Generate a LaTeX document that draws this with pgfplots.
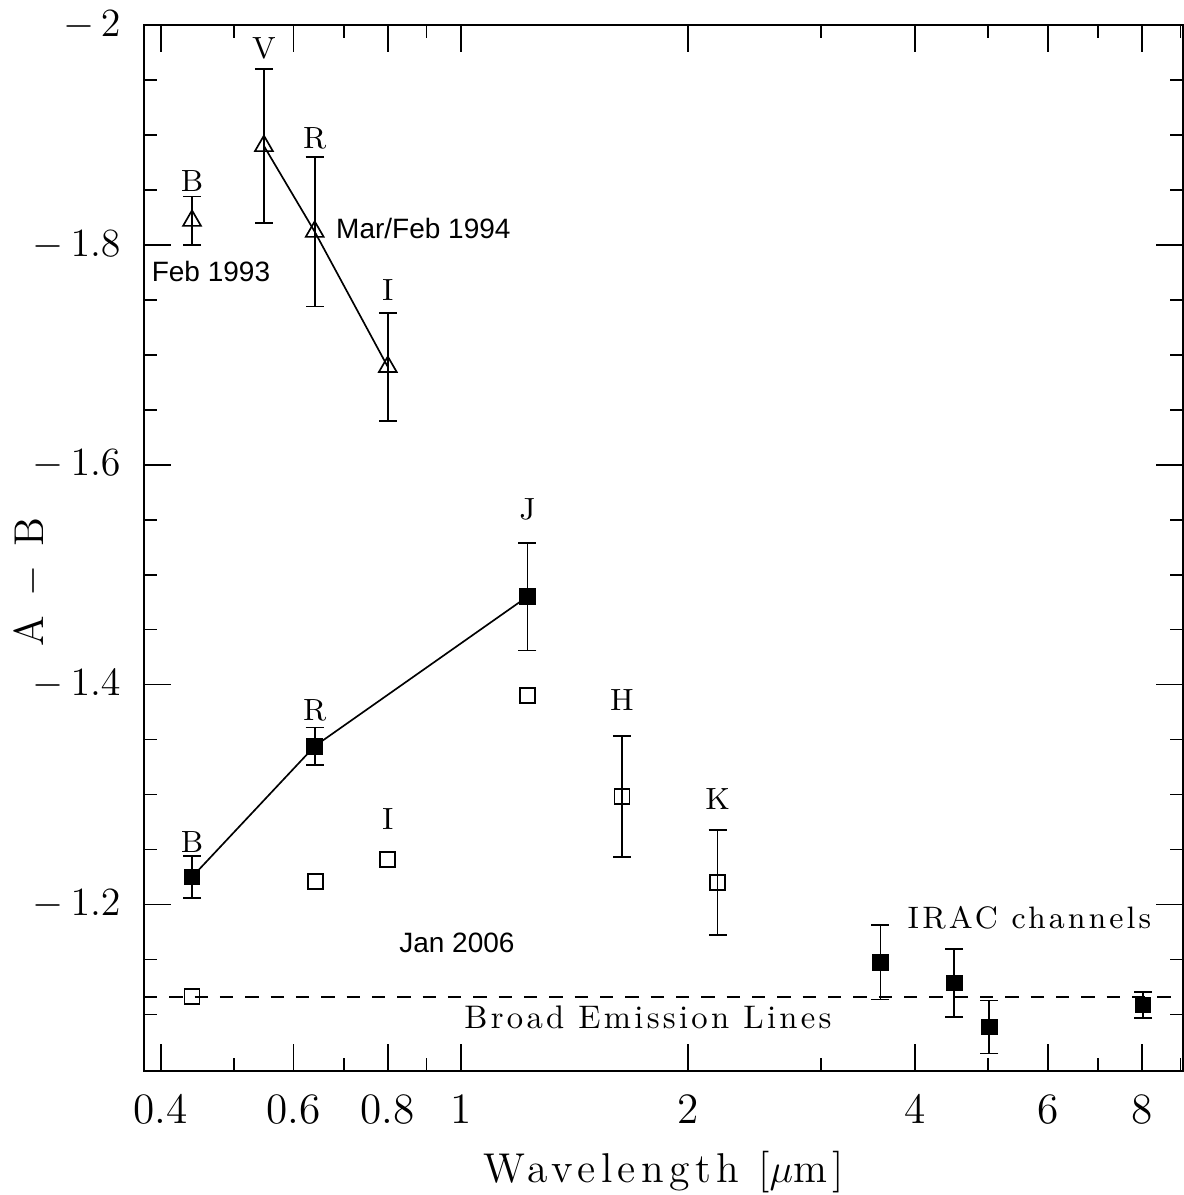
\documentclass[border=0pt]{standalone}
\usepackage{fontspec}
\usepackage{pgfplots}
\pgfplotsset{compat=1.18}
\newfontfamily\sanslab{Liberation Sans}
\newfontfamily\spaced{Latin Modern Roman}[LetterSpace=10]
\newfontfamily\wspaced{Latin Modern Roman}[LetterSpace=13]

\begin{document}
\begin{tikzpicture}
\begin{axis}[
  scale only axis,
  width=311.7pt, height=313.8pt,
  xmode=log,
  xmin=0.38, xmax=9.07,
  ymin=-2, ymax=-1.0485,
  y dir=reverse,
  clip=false,
  axis line style={line width=0.6pt},
  tick align=inside,
  xtick pos=both, ytick pos=both,
  xticklabel pos=lower, yticklabel pos=left,
  major tick length=8.1pt, minor tick length=4pt,
  every tick/.style={line width=0.5pt, black},
  xtick={0.4,0.6,0.8,1,2,4,6,8},
  xticklabels={0.4,0.6,0.8,1,2,4,6,8},
  minor xtick={0.5,0.7,0.9,3,5,7,9},
  ytick={-2,-1.8,-1.6,-1.4,-1.2},
  yticklabels={$-\,2$,$-\,1.8$,$-\,1.6$,$-\,1.4$,$-\,1.2$},
  minor ytick={-1.95,-1.9,-1.85,-1.75,-1.7,-1.65,-1.55,-1.5,-1.45,-1.35,-1.3,-1.25,-1.15,-1.1},
  ticklabel style={font=\fontsize{13}{15}\selectfont},
  xticklabel style={yshift=-3.5pt},
  yticklabel style={xshift=-3.5pt},
  xlabel={\wspaced Wavelength [$\mu$m]},
  ylabel={\wspaced A $-$ B},
  xlabel style={font=\fontsize{12.5}{14}\selectfont, at={(axis description cs:0.5,-0.0966)}, anchor=center},
  ylabel style={font=\fontsize{12.5}{14}\selectfont, at={(axis description cs:-0.1097,0.4675)}, anchor=center},
]
% Feb 1993, B
\addplot[black, line width=0.5pt, only marks, mark=triangle, mark size=3.1pt,
  error bars/.cd, y dir=both, y explicit,
  error bar style={line width=0.5pt},
  error mark options={rotate=90, mark size=2.7pt, line width=0.5pt}]
  coordinates {(0.44,-1.822) +- (0,0.022)};
% Mar/Feb 1994, V R I
\addplot[black, line width=0.5pt, mark=triangle, mark size=3.1pt, mark options={solid},
  error bars/.cd, y dir=both, y explicit,
  error bar style={line width=0.5pt},
  error mark options={rotate=90, mark size=2.7pt, line width=0.5pt}]
  coordinates {
  (0.548,-1.890) +- (0,0.070)
  (0.64,-1.812) +- (0,0.068)
  (0.80,-1.689) +- (0,0.049)
};
% filled squares B R J
\addplot[black, line width=0.5pt, mark=square*, mark size=2.25pt, mark options={solid},
  error bars/.cd, y dir=both, y explicit,
  error bar style={line width=0.5pt},
  error mark options={rotate=90, mark size=2.7pt, line width=0.5pt}]
  coordinates {
  (0.44,-1.225) +- (0,0.019)
  (0.64,-1.344) +- (0,0.017)
  (1.225,-1.480) +- (0,0.049)
};
% Jan 2006 open squares
\addplot[black, line width=0.5pt, only marks, mark=square, mark size=2.25pt]
  coordinates {(0.44,-1.116) (0.642,-1.221) (0.80,-1.241) (1.225,-1.390)};
\addplot[black, line width=0.5pt, only marks, mark=square, mark size=2.25pt,
  error bars/.cd, y dir=both, y explicit,
  error bar style={line width=0.5pt},
  error mark options={rotate=90, mark size=2.7pt, line width=0.5pt}]
  coordinates {
  (1.635,-1.298) +- (0,0.055)
  (2.19,-1.220) +- (0,0.048)
};
% IRAC channels
\addplot[black, line width=0.5pt, only marks, mark=square*, mark size=2.25pt,
  error bars/.cd, y dir=both, y explicit,
  error bar style={line width=0.5pt},
  error mark options={rotate=90, mark size=2.7pt, line width=0.5pt}]
  coordinates {
  (3.6,-1.1475) +- (0,0.034)
  (4.51,-1.1285) +- (0,0.031)
  (5.02,-1.0885) +- (0,0.024)
  (8.03,-1.1085) +- (0,0.012)
};
% broad emission lines level
\addplot[black, line width=0.5pt, dash pattern=on 4pt off 3.6pt]
  coordinates {(0.38,-1.116) (9.07,-1.116)};

% band names
\begin{scope}[every node/.style={font=\fontsize{9.2}{11}\selectfont\spaced, inner sep=0pt}]
\node at (axis cs:0.44,-1.858) {B};
\node at (axis cs:0.548,-1.979) {V};
\node at (axis cs:0.64,-1.897) {R};
\node at (axis cs:0.80,-1.759) {I};
\node at (axis cs:1.225,-1.559) {J};
\node at (axis cs:0.64,-1.377) {R};
\node at (axis cs:0.44,-1.257) {B};
\node at (axis cs:0.80,-1.278) {I};
\node at (axis cs:1.635,-1.386) {H};
\node at (axis cs:2.19,-1.296) {K};
\end{scope}
\node[font=\fontsize{9.3}{11}\selectfont\spaced, inner sep=0pt, anchor=west] at (axis cs:3.905,-1.188) {IRAC channels};
\node[font=\fontsize{9.8}{11}\selectfont\spaced, inner sep=0pt, anchor=west] at (axis cs:1.009,-1.0973) {Broad Emission Lines};
% epochs
\node[font=\fontsize{8.4}{10}\selectfont\sanslab, inner sep=0pt, anchor=west] at (axis cs:0.3884,-1.7755) {Feb 1993};
\node[font=\fontsize{8.4}{10}\selectfont\sanslab, inner sep=0pt, anchor=west] at (axis cs:0.682,-1.815) {Mar/Feb 1994};
\node[font=\fontsize{8.4}{10}\selectfont\sanslab, inner sep=0pt, anchor=west] at (axis cs:0.827,-1.1655) {Jan 2006};
\end{axis}
\pgfresetboundingbox
\useasboundingbox (-43.2pt,-37.2pt) rectangle (312pt,321.3pt);
\end{tikzpicture}
\end{document}
